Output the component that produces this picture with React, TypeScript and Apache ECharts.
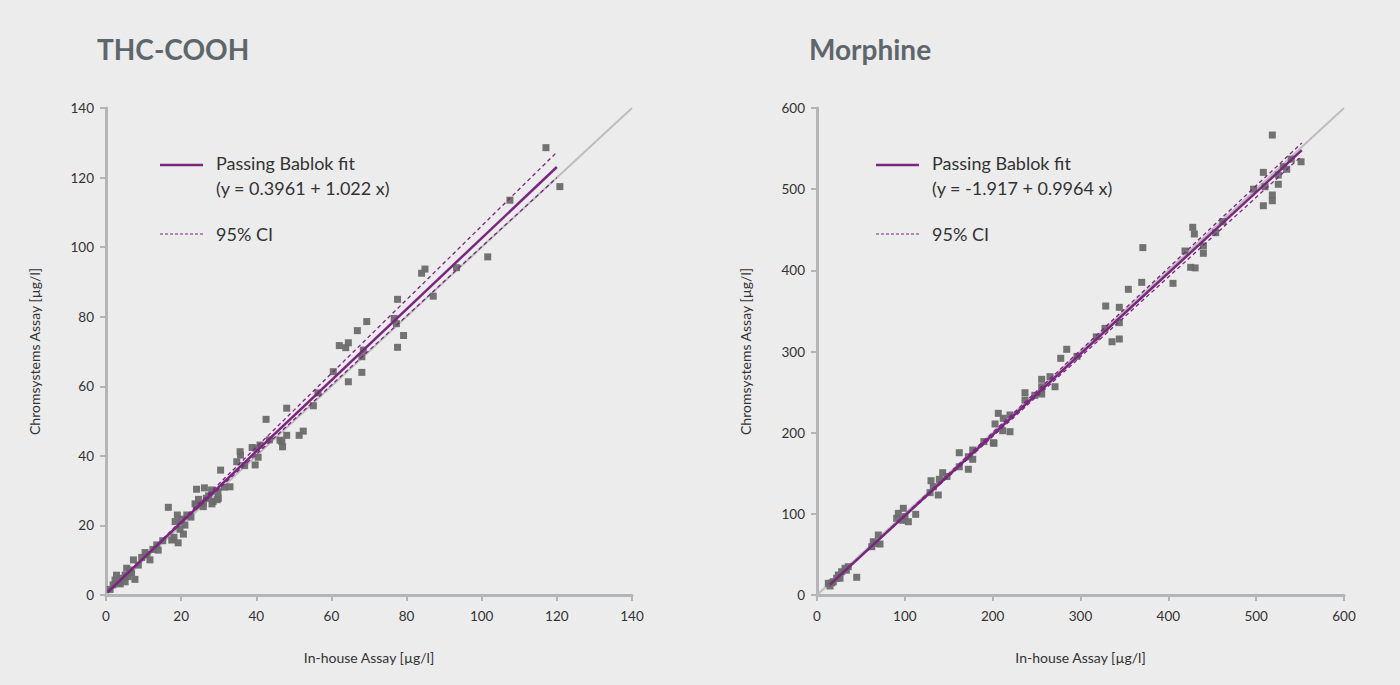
import React, { useEffect, useRef } from "react";
import * as echarts from "echarts";

// THC-COOH (left) data: [in-house, chromsystems]
const thcPoints: number[][] = [
  [117.1, 128.6], [120.8, 117.4], [107.5, 113.5], [101.6, 97.2], [84.9, 93.7], [84.0, 92.5],
  [93.3, 94.1], [87.1, 85.9], [77.6, 85.0], [76.7, 79.5], [77.3, 78.0], [79.2, 74.6], [77.6, 71.2],
  [69.4, 78.6], [66.9, 76.0], [64.5, 72.5], [62.1, 71.7], [63.8, 71.1], [68.5, 70.4], [68.1, 68.5],
  [68.1, 64.0], [64.5, 61.3], [60.5, 64.2], [55.2, 54.4], [48.1, 53.7], [52.5, 47.1], [51.4, 45.9],
  [48.1, 45.9], [46.8, 44.1], [47.0, 42.6], [42.6, 50.5], [46.3, 44.5], [41.0, 43.1], [39.9, 42.2],
  [38.9, 42.4], [35.7, 41.2], [35.8, 40.2], [40.5, 39.6], [34.8, 38.3], [39.7, 37.4], [30.5, 35.9],
  [33.0, 31.1], [24.1, 30.4], [26.2, 30.8], [28.1, 30.2], [29.8, 29.7], [24.6, 27.5], [26.7, 27.8],
  [29.9, 27.8], [28.5, 26.9], [23.7, 26.2], [28.2, 26.2], [25.9, 25.4], [21.5, 23.0], [16.6, 25.2],
  [24.1, 25.9], [25.9, 26.4], [29.6, 27.4], [19.0, 23.0], [18.4, 21.1], [20.1, 21.8], [21.0, 20.1],
  [19.7, 18.9], [20.6, 17.5], [18.1, 16.6], [19.2, 15.0], [17.5, 15.8], [13.5, 14.4], [13.9, 12.9],
  [11.7, 10.1], [10.4, 12.2], [9.5, 10.8], [7.3, 10.1], [8.6, 8.6], [7.7, 4.5], [6.4, 7.2],
  [5.5, 7.7], [5.1, 5.7], [4.2, 4.8], [2.8, 5.7], [2.4, 4.3], [3.3, 3.4], [1.9, 2.9], [1.1, 1.6],
  [5.1, 3.8], [5.9, 5.3], [3.8, 3.2], [6.8, 6.4], [10.9, 11.6], [12.5, 13.1], [15.1, 15.6],
  [22.6, 22.4], [27.3, 28.5], [31.5, 31.0], [36.9, 37.2], [43.5, 44.6], [56.4, 58.1],
];
const thcFitX = [0.5, 120];
const thcFit = { intercept: 0.3961, slope: 1.022 };
const thcCiUpper = { intercept: 0.1, slope: 1.06 };
const thcCiLower = { intercept: 0.7, slope: 0.994 };

// Morphine (right) data
const morPoints: number[][] = [
  [518.4, 566.7], [551.1, 533.8], [508.2, 520.7], [510.1, 503.0], [525.2, 506.0], [518.4, 492.8],
  [518.4, 485.8], [508.2, 479.6], [525.2, 517.4], [534.8, 524.5], [531.0, 527.7], [427.8, 453.0],
  [429.6, 444.8], [453.9, 446.4], [419.0, 423.8], [439.9, 430.0], [439.9, 421.0], [425.4, 403.7],
  [430.5, 403.0], [405.3, 384.0], [371.0, 428.0], [369.7, 385.2], [354.5, 376.6], [328.7, 356.0],
  [344.2, 354.4], [344.2, 335.5], [327.9, 328.5], [335.9, 312.0], [344.2, 315.4], [284.3, 302.7],
  [277.5, 291.6], [265.3, 269.0], [255.8, 265.7], [255.8, 256.6], [271.0, 256.6], [255.8, 247.6],
  [236.8, 249.2], [236.8, 240.2], [206.4, 223.8], [212.1, 217.7], [202.7, 210.7], [219.7, 221.8],
  [211.4, 202.4], [219.7, 201.2], [200.7, 187.6], [201.5, 186.9], [162.0, 175.3], [177.3, 178.6],
  [172.3, 170.4], [177.3, 167.2], [162.0, 158.0], [172.3, 154.9], [129.8, 140.8], [143.1, 150.7],
  [139.3, 142.5], [132.4, 133.4], [138.1, 123.2], [128.7, 126.1], [112.4, 99.4], [98.3, 106.8],
  [92.6, 100.6], [100.2, 96.5], [90.7, 94.5], [104.0, 90.3], [97.5, 92.0], [69.8, 73.9],
  [64.1, 65.7], [71.7, 62.8], [62.3, 59.5], [66.5, 63.5], [45.2, 21.8], [35.6, 34.9], [31.9, 32.9],
  [28.1, 28.7], [24.3, 24.6], [22.4, 20.6], [18.6, 16.4], [12.9, 14.4], [14.8, 11.1], [26.2, 20.6],
  [17.0, 15.0], [33.5, 30.5], [148.0, 146.0], [190.0, 189.0], [248.0, 246.0], [296.0, 294.0],
  [318.0, 318.0], [462.0, 460.0], [497.0, 500.0], [540.0, 537.0],
];
const morFitX = [15, 552];
const morFit = { intercept: -1.917, slope: 0.9964 };
const morCiUpper = { intercept: -2.5, slope: 1.0135 };
const morCiLower = { intercept: -1.3, slope: 0.9825 };

const thcTicks = { min: 0, max: 140, interval: 20 };
const morTicks = { min: 0, max: 600, interval: 100 };

const PURPLE = "#7b2580";
const GREY_LINE = "#bdbdbd";
const POINT = "#6c6c6c";
const AXIS = "#b3b5b7";
const TEXT = "#333333";
const FONT = "Lato, 'Open Sans', sans-serif";

function lineData(range: number[], p: { intercept: number; slope: number }) {
  return range.map((x) => [x, p.intercept + p.slope * x]);
}

function axis(gridIndex: number, t: { min: number; max: number; interval: number }, name: string, isY: boolean) {
  return {
    type: "value",
    gridIndex,
    min: t.min,
    max: t.max,
    interval: t.interval,
    name,
    nameLocation: "middle",
    nameGap: isY ? 65 : 55,
    nameTextStyle: { color: TEXT, fontSize: 14, fontFamily: FONT },
    axisLine: { show: true, onZero: false, lineStyle: { color: AXIS, width: 3 } },
    axisTick: { show: true, length: 6, lineStyle: { color: AXIS, width: 2 } },
    axisLabel: { color: TEXT, fontSize: 13.5, fontFamily: FONT, margin: isY ? 12 : 14 },
    splitLine: { show: false },
  };
}

function seriesFor(idx: number, pts: number[][], fitX: number[], fit: any, up: any, lo: any, max: number) {
  return [
    {
      type: "line",
      xAxisIndex: idx,
      yAxisIndex: idx,
      data: [[0, 0], [max, max]],
      symbol: "none",
      lineStyle: { color: GREY_LINE, width: 2 },
      z: 1,
      silent: true,
    },
    {
      type: "scatter",
      xAxisIndex: idx,
      yAxisIndex: idx,
      data: pts,
      symbol: "rect",
      symbolSize: 7,
      itemStyle: { color: POINT, opacity: 0.95 },
      z: 2,
    },
    {
      type: "line",
      xAxisIndex: idx,
      yAxisIndex: idx,
      data: lineData(fitX, up),
      symbol: "none",
      lineStyle: { color: PURPLE, width: 1.3, type: [4, 3] },
      z: 3,
    },
    {
      type: "line",
      xAxisIndex: idx,
      yAxisIndex: idx,
      data: lineData(fitX, lo),
      symbol: "none",
      lineStyle: { color: PURPLE, width: 1.3, type: [4, 3] },
      z: 3,
    },
    {
      type: "line",
      xAxisIndex: idx,
      yAxisIndex: idx,
      data: lineData(fitX, fit),
      symbol: "none",
      lineStyle: { color: PURPLE, width: 2.5 },
      z: 4,
    },
  ];
}

function legend(x0: number, eq: string) {
  const tx = x0 + 56;
  return [
    { type: "line", shape: { x1: x0, y1: 165, x2: x0 + 43, y2: 165 }, style: { stroke: PURPLE, lineWidth: 2.5 } },
    { type: "text", x: tx, y: 163, style: { text: "Passing Bablok fit", fill: TEXT, font: `18px ${FONT}`, textVerticalAlign: "middle" } },
    { type: "text", x: tx, y: 188, style: { text: eq, fill: TEXT, font: `18px ${FONT}`, textVerticalAlign: "middle" } },
    { type: "line", shape: { x1: x0, y1: 234, x2: x0 + 43, y2: 234 }, style: { stroke: PURPLE, lineWidth: 1.2, lineDash: [3, 2] } },
    { type: "text", x: tx, y: 234, style: { text: "95% CI", fill: TEXT, font: `18px ${FONT}`, textVerticalAlign: "middle" } },
  ];
}

export default function App() {
  const ref = useRef<HTMLDivElement>(null);
  useEffect(() => {
    if (!ref.current) return;
    const chart = echarts.init(ref.current, undefined, { renderer: "svg" });
    chart.setOption({
      animation: false,
      backgroundColor: "#ececec",
      title: [
        { text: "THC-COOH", left: 92, top: 30, textStyle: { color: "#5d676b", fontSize: 28, fontWeight: "bold", fontFamily: FONT } },
        { text: "Morphine", left: 804, top: 30, textStyle: { color: "#5d676b", fontSize: 28, fontWeight: "bold", fontFamily: FONT } },
      ],
      grid: [
        { left: 106, right: 768, top: 108, bottom: 90 },
        { left: 817, right: 56, top: 108, bottom: 90 },
      ],
      xAxis: [
        axis(0, thcTicks, "In-house Assay [µg/l]", false),
        axis(1, morTicks, "In-house Assay [µg/l]", false),
      ],
      yAxis: [
        axis(0, thcTicks, "Chromsystems Assay [µg/l]", true),
        axis(1, morTicks, "Chromsystems Assay [µg/l]", true),
      ],
      series: [
        ...seriesFor(0, thcPoints, thcFitX, thcFit, thcCiUpper, thcCiLower, thcTicks.max),
        ...seriesFor(1, morPoints, morFitX, morFit, morCiUpper, morCiLower, morTicks.max),
      ],
      graphic: [...legend(160, "(y = 0.3961 + 1.022 x)"), ...legend(876, "(y = -1.917 + 0.9964 x)")],
    });
    return () => chart.dispose();
  }, []);
  return <div ref={ref} style={{ position: "fixed", left: 0, top: 0, width: 1400, height: 685 }} />;
}
